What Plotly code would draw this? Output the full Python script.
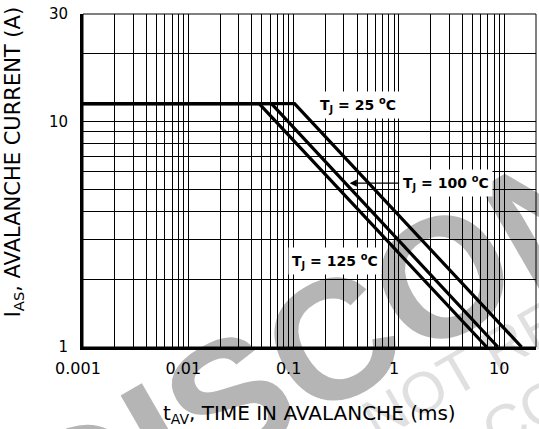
import math
import plotly.graph_objects as go

# ---- data ----
temps = ["25", "100", "125"]
t_start = [0.001, 0.001, 0.001]      # ms, left edge of flat part
t_knee = [0.102, 0.0615, 0.047]      # ms, end of flat 12 A part
t_end = [14.6, 8.7, 6.8]             # ms, where curve reaches 1 A
i_flat = [12.0, 12.0, 12.0]          # A
i_end = [1.0, 1.0, 1.0]              # A

x_label_vals = [0.001, 0.01, 0.1, 1, 10, 20]
x_label_text = ["0.001", "0.01", "0.1", "1", "10", "20"]
y_label_vals = [1, 10, 30]
y_label_text = ["1", "10", "30"]

# label anchor points (data coords)
lab25 = (0.406, 11.9)
lab125 = (0.245, 2.40)
arrow100_tip = (0.34, 5.33)

FONT = "DejaVu Sans"
L = math.log10

# grid positions: 1..9 x each decade, up to the axis limits
x_grid = sorted({round(m * 10 ** e, 6) for e in range(-3, 2) for m in range(1, 10)} | {20})
x_grid = [v for v in x_grid if v <= 20]
y_grid = sorted({round(m * 10 ** e, 6) for e in range(0, 2) for m in range(1, 10)} | {30})
y_grid = [v for v in y_grid if v <= 30]


def txt(vals, labels, grid):
    out = []
    for g in grid:
        s = ""
        for v, l in zip(vals, labels):
            if abs(v - g) < 1e-9:
                s = l
        out.append(s)
    return out


fig = go.Figure()

for k in range(len(temps)):
    fig.add_trace(go.Scatter(
        x=[t_start[k], t_knee[k], t_end[k]],
        y=[i_flat[k], i_flat[k], i_end[k]],
        mode="lines",
        line=dict(color="black", width=3.2),
        name="TJ = %s °C" % temps[k],
        showlegend=False,
        hoverinfo="skip",
    ))

fig.update_layout(
    width=539, height=429,
    margin=dict(l=83, r=3, t=14, b=82),
    paper_bgcolor="white", plot_bgcolor="white",
    showlegend=False,
    font=dict(family=FONT, color="black"),
)

fig.update_xaxes(
    type="log", range=[-3, 1.30103],
    tickvals=x_grid, ticktext=txt(x_label_vals, x_label_text, x_grid),
    showgrid=True, gridcolor="black", gridwidth=1,
    showline=True, linecolor="black", linewidth=3,
    ticks="", ticklabelstandoff=5, ticklabelshift=-5,
    tickfont=dict(family=FONT, size=16, color="black"),
    zeroline=False, automargin=False,
)
fig.update_yaxes(
    type="log", range=[0, 1.47712],
    tickvals=y_grid, ticktext=txt(y_label_vals, y_label_text, y_grid),
    showgrid=True, gridcolor="black", gridwidth=1,
    showline=True, linecolor="black", linewidth=3,
    ticks="", ticklabelstandoff=9,
    tickfont=dict(family=FONT, size=15, color="black"),
    zeroline=False, automargin=False,
)

# thin frame top / right
fig.add_shape(type="rect", xref="paper", yref="paper", x0=0, x1=1, y0=0, y1=1,
              line=dict(color="black", width=1), layer="above")

# watermark (behind grid)
fig.add_shape(type="rect", xref="paper", yref="paper", x0=1.0, x1=1.22, y0=0.43, y1=0.60,
              line=dict(width=0), fillcolor="rgba(0,0,0,0)", layer="below",
              label=dict(text="DISCONTINUED", textangle=-30, textposition="middle center",
                         font=dict(family="Liberation Sans", size=170, color="#b5b5b5", weight="bold")))
fig.add_shape(type="rect", xref="paper", yref="paper", x0=1.135, x1=1.265, y0=0.19, y1=0.28,
              line=dict(width=0), fillcolor="rgba(0,0,0,0)", layer="below",
              label=dict(text="NOT RECOMMENDED", textangle=-30, textposition="middle center",
                         font=dict(family="Liberation Sans", size=58, color="#e0e0e0")))
fig.add_shape(type="rect", xref="paper", yref="paper", x0=1.09, x1=1.21, y0=-0.09, y1=0.00,
              line=dict(width=0), fillcolor="rgba(0,0,0,0)", layer="below",
              label=dict(text="CONTACT", textangle=-30, textposition="middle center",
                         font=dict(family="Liberation Sans", size=58, color="#e0e0e0")))

lab_font = dict(family=FONT, size=14, color="black", weight="bold")
fig.add_annotation(x=L(lab25[0]), y=L(lab25[1]), xref="x", yref="y",
                   text="T<sub>J</sub> = 25 <sup>o</sup>C", showarrow=False,
                   bgcolor="white", borderpad=3, font=lab_font)
fig.add_annotation(x=L(lab125[0]), y=L(lab125[1]), xref="x", yref="y",
                   text="T<sub>J</sub> = 125 <sup>o</sup>C", showarrow=False,
                   bgcolor="white", borderpad=3, font=lab_font)
fig.add_annotation(x=L(arrow100_tip[0]), y=L(arrow100_tip[1]), xref="x", yref="y",
                   text="T<sub>J</sub> = 100 <sup>o</sup>C", showarrow=True,
                   ax=96, ay=0, arrowhead=2, arrowsize=1.2, arrowwidth=1.2, arrowcolor="black",
                   standoff=0, bgcolor="white", borderpad=3, font=lab_font)

# axis titles
fig.add_annotation(xref="paper", yref="paper", x=0.5, y=-0.2, yanchor="middle",
                   text="t<sub>AV</sub>, TIME IN AVALANCHE (ms)", showarrow=False,
                   font=dict(family=FONT, size=20, color="black"))
fig.add_annotation(xref="paper", yref="paper", x=-0.152, y=0.555, xanchor="center", yanchor="middle",
                   text="I<sub>AS</sub>, AVALANCHE CURRENT (A)", showarrow=False, textangle=-90,
                   font=dict(family=FONT, size=21, color="black"))

fig.write_html("out.html")
